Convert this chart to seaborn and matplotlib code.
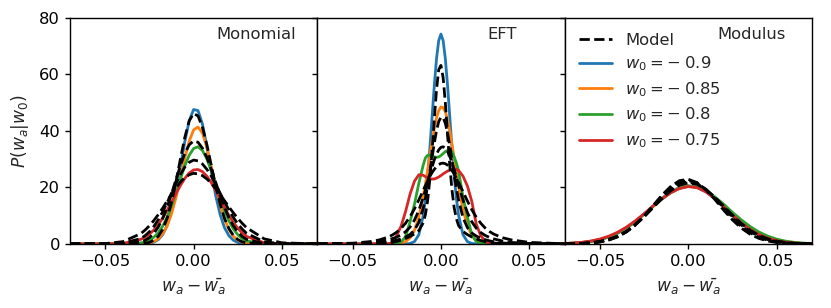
import matplotlib
matplotlib.use("Agg")
import matplotlib.pyplot as plt
from matplotlib.lines import Line2D
import seaborn as sns
import pandas as pd

W0_VALUES = ["0.9", "0.85", "0.8", "0.75"]
COLORS = ["#1f77b4", "#ff7f0e", "#2ca02c", "#d62728"]

# ---- Monomial ----
x_mono = [-0.07, -0.05, -0.04, -0.03, -0.0275, -0.025, -0.0225, -0.02, -0.0175, -0.015, -0.0125,
          -0.01, -0.0075, -0.005, -0.0025, 0.0, 0.0025, 0.005, 0.0075, 0.01, 0.0125, 0.015,
          0.0175, 0.02, 0.0225, 0.025, 0.0275, 0.03, 0.04, 0.05, 0.07]
mono_090 = [0, 0, 0, 0.03, 0.08, 0.24, 0.64, 1.53, 3.31, 6.5, 11.6, 18.7, 27.3, 36.2, 43.6, 47.6,
            47.2, 42.4, 34.5, 25.5, 17.1, 10.4, 5.7, 2.9, 1.3, 0.53, 0.2, 0.07, 0, 0, 0]
mono_085 = [0, 0, 0, 0.06, 0.15, 0.37, 0.86, 1.82, 3.57, 6.4, 10.7, 16.4, 23.2, 30.3, 36.4, 40.4,
            41.4, 39.2, 34.1, 27.5, 20.4, 13.9, 8.8, 5.1, 2.75, 1.36, 0.62, 0.26, 0, 0, 0]
mono_080 = [0, 0, 0.01, 0.36, 0.72, 1.34, 2.38, 3.99, 6.34, 9.5, 13.5, 18.1, 23.0, 27.7, 31.4, 33.8,
            34.4, 33.1, 30.1, 25.9, 21.0, 16.2, 11.8, 8.1, 5.3, 3.27, 1.9, 1.05, 0.06, 0, 0]
mono_075 = [0, 0.01, 0.18, 1.6, 2.4, 3.5, 4.92, 6.84, 9.17, 11.9, 14.8, 17.8, 20.7, 23.2, 25.1, 26.2,
            26.35, 25.6, 24.0, 21.7, 18.9, 15.9, 12.9, 10.1, 7.6, 5.56, 3.9, 2.65, 0.39, 0.03, 0]
mono_model_090 = [0, 0, 0, 0.09, 0.23, 0.57, 1.30, 2.70, 5.18, 9.1, 14.8, 22.0, 30.0, 37.7, 43.6, 46.2,
                  45.3, 41.3, 35.1, 27.8, 20.5, 14.1, 9.0, 5.4, 3.0, 1.55, 0.75, 0.34, 0.01, 0, 0]
mono_model_085 = [0, 0, 0.03, 0.68, 1.27, 2.25, 3.78, 6.0, 9.1, 13.0, 17.7, 22.8, 27.7, 32.1, 35.1, 36.5,
                  36.0, 33.9, 30.6, 26.4, 21.8, 17.2, 12.9, 9.3, 6.4, 4.23, 2.66, 1.60, 0.13, 0.01, 0]
mono_model_080 = [0, 0.02, 0.23, 1.9, 2.92, 4.34, 6.21, 8.57, 11.4, 14.6, 18.0, 21.4, 24.6, 27.2, 28.9, 29.7,
                  29.4, 28.3, 26.4, 24.0, 21.1, 18.0, 14.9, 12.0, 9.4, 7.1, 5.25, 3.75, 0.73, 0.09, 0]
mono_model_075 = [0, 0.12, 0.82, 3.61, 4.89, 6.46, 8.31, 10.4, 12.7, 15.2, 17.6, 19.9, 21.9, 23.5, 24.5, 25.0,
                  24.8, 24.2, 23.0, 21.5, 19.6, 17.5, 15.3, 13.1, 11.0, 9.07, 7.29, 5.74, 1.79, 0.40, 0.01]

# ---- EFT ----
x_eft = [-0.07, -0.05, -0.04, -0.035, -0.03, -0.0275, -0.025, -0.0225, -0.02, -0.0175, -0.015, -0.0125,
         -0.01, -0.00875, -0.0075, -0.00625, -0.005, -0.00375, -0.0025, -0.00125, 0.0, 0.00125, 0.0025,
         0.00375, 0.005, 0.00625, 0.0075, 0.00875, 0.01, 0.0125, 0.015, 0.0175, 0.02, 0.0225, 0.025,
         0.0275, 0.03, 0.035, 0.04, 0.05, 0.07]
eft_090 = [0, 0, 0, 0, 0, 0, 0, 0, 0.02, 0.16, 0.82, 3.26,
           10.1, 16.1, 24.1, 34.0, 45.1, 56.1, 65.6, 72.0, 74.3, 72.0, 65.6, 56.1, 45.1, 34.0, 24.1, 16.1, 10.1,
           3.26, 0.82, 0.16, 0.02, 0, 0, 0, 0, 0, 0, 0, 0]
eft_085 = [0, 0, 0, 0, 0, 0.03, 0.09, 0.30, 0.84, 2.13, 4.78, 9.51,
           16.8, 21.3, 26.2, 31.3, 36.3, 40.8, 44.6, 47.2, 48.5, 48.3, 46.8, 43.9, 40.0, 35.3, 30.3, 25.2, 20.3,
           12.1, 6.40, 2.99, 1.24, 0.46, 0.15, 0.04, 0.01, 0, 0, 0, 0]
eft_080 = [0, 0, 0, 0, 0, 0.02, 0.2, 0.7, 2.6, 7.8, 14.0, 21.5,
           28.0, 30.5, 31.4, 31.4, 31.0, 30.8, 30.7, 30.8, 31.3, 32.0, 32.7, 33.1, 33.3, 32.6, 30.8, 28.7, 25.8,
           16.5, 9.5, 3.2, 0.9, 0.25, 0.05, 0, 0, 0, 0, 0, 0]
eft_075 = [0, 0, 0, 0, 0.05, 0.4, 3.0, 6.4, 11.5, 17.6, 22.2, 24.5,
           24.3, 23.8, 23.4, 23.1, 23.0, 23.0, 23.3, 23.7, 24.2, 24.8, 25.3, 25.8, 26.1, 26.4, 26.5, 26.4, 26.0,
           24.0, 20.5, 15.0, 7.0, 3.0, 1.0, 0.3, 0.05, 0, 0, 0, 0]
eft_model_090 = [0, 0, 0.03, 0.11, 0.35, 0.57, 0.89, 1.34, 1.92, 2.65, 3.53, 4.73,
                 7.5, 10.5, 15.5, 23.0, 32.9, 44.2, 54.6, 61.7, 63.2, 58.9, 49.9, 38.7, 27.9, 19.1, 12.8, 8.9, 6.5,
                 4.4, 3.3, 2.46, 1.77, 1.22, 0.80, 0.51, 0.31, 0.10, 0.03, 0, 0]
eft_model_085 = [0, 0.01, 0.11, 0.28, 0.65, 0.95, 1.33, 1.83, 2.47, 3.37, 4.86, 7.63,
                 12.7, 16.3, 20.6, 25.5, 30.7, 35.7, 40.1, 43.3, 44.9, 44.7, 42.7, 39.3, 34.8, 29.7, 24.5, 19.7, 15.5,
                 9.3, 5.76, 3.87, 2.78, 2.07, 1.51, 1.09, 0.76, 0.34, 0.13, 0.01, 0]
eft_model_080 = [0, 0.08, 0.40, 0.79, 1.41, 1.87, 2.44, 3.21, 4.31, 5.95, 8.40, 11.9,
                 16.5, 19.1, 21.9, 24.7, 27.3, 29.8, 31.8, 33.3, 34.2, 34.4, 33.9, 32.8, 31.0, 28.8, 26.3, 23.6, 20.8,
                 15.5, 11.1, 7.84, 5.57, 4.05, 3.03, 2.30, 1.77, 1.0, 0.53, 0.12, 0]
eft_model_075 = [0.01, 0.26, 0.83, 1.41, 2.40, 3.16, 4.19, 5.55, 7.36, 9.65, 12.4, 15.6,
                 19.0, 20.7, 22.4, 23.9, 25.3, 26.4, 27.4, 28.1, 28.5, 28.6, 28.4, 27.9, 27.1, 26.0, 24.8, 23.4, 21.8,
                 18.5, 15.2, 12.1, 9.49, 7.36, 5.67, 4.40, 3.45, 2.18, 1.41, 0.55, 0.05]

# ---- Modulus ----
x_mod = [-0.07, -0.065, -0.06, -0.055, -0.05, -0.045, -0.04, -0.035, -0.03, -0.025, -0.02, -0.015, -0.01,
         -0.005, 0.0, 0.005, 0.01, 0.015, 0.02, 0.025, 0.03, 0.035, 0.04, 0.045, 0.05, 0.055, 0.06, 0.065, 0.07]
mod_090 = [0.12, 0.25, 0.47, 0.86, 1.48, 2.43, 3.78, 5.60, 7.88, 10.5, 13.3, 16.1, 18.4, 20.0, 20.6,
           20.1, 18.5, 16.0, 13.1, 10.1, 7.31, 5.0, 3.22, 1.95, 1.11, 0.60, 0.31, 0.15, 0.07]
mod_085 = [0.14, 0.28, 0.52, 0.92, 1.57, 2.53, 3.90, 5.70, 7.94, 10.5, 13.3, 15.9, 18.2, 19.8, 20.5,
           20.1, 18.7, 16.4, 13.6, 10.7, 7.90, 5.53, 3.65, 2.28, 1.35, 0.75, 0.40, 0.20, 0.09]
mod_080 = [0.14, 0.28, 0.52, 0.92, 1.56, 2.52, 3.88, 5.67, 7.9, 10.5, 13.2, 15.8, 18.1, 19.7, 20.4,
           20.1, 18.8, 16.7, 14.1, 11.2, 8.55, 6.18, 4.23, 2.76, 1.71, 1.0, 0.56, 0.30, 0.15]
mod_075 = [0.17, 0.33, 0.60, 1.05, 1.74, 2.75, 4.14, 5.96, 8.18, 10.7, 13.4, 15.9, 18.1, 19.6, 20.3,
           19.9, 18.4, 16.1, 13.2, 10.2, 7.45, 5.13, 3.33, 2.03, 1.17, 0.63, 0.33, 0.15, 0.07]
mod_model_090 = [0.02, 0.06, 0.14, 0.32, 0.69, 1.36, 2.48, 4.23, 6.70, 9.87, 13.5, 17.2, 20.3, 22.4, 22.9,
                 21.7, 19.2, 15.8, 12.0, 8.53, 5.62, 3.45, 1.96, 1.04, 0.51, 0.24, 0.10, 0.04, 0.02]
mod_model_085 = [0.03, 0.07, 0.17, 0.37, 0.76, 1.45, 2.59, 4.32, 6.74, 9.80, 13.3, 16.8, 19.9, 21.9, 22.5,
                 21.6, 19.3, 16.1, 12.6, 9.15, 6.20, 3.93, 2.32, 1.28, 0.66, 0.32, 0.14, 0.06, 0.02]
mod_model_080 = [0.03, 0.09, 0.19, 0.41, 0.82, 1.53, 2.68, 4.39, 6.74, 9.67, 13.0, 16.4, 19.3, 21.3, 22.0,
                 21.3, 19.3, 16.4, 13.0, 9.67, 6.74, 4.39, 2.68, 1.53, 0.82, 0.41, 0.19, 0.09, 0.03]
mod_model_075 = [0.04, 0.10, 0.22, 0.46, 0.89, 1.62, 2.78, 4.47, 6.75, 9.58, 12.8, 16.0, 18.8, 20.8, 21.6,
                 21.1, 19.3, 16.6, 13.4, 10.2, 7.28, 4.88, 3.07, 1.82, 1.01, 0.53, 0.26, 0.12, 0.05]

panels = [
    ("Monomial", x_mono, [mono_090, mono_085, mono_080, mono_075],
     [mono_model_090, mono_model_085, mono_model_080, mono_model_075], 0.013),
    ("EFT", x_eft, [eft_090, eft_085, eft_080, eft_075],
     [eft_model_090, eft_model_085, eft_model_080, eft_model_075], 0.0265),
    ("Modulus", x_mod, [mod_090, mod_085, mod_080, mod_075],
     [mod_model_090, mod_model_085, mod_model_080, mod_model_075], 0.0165),
]

rows = []
for name, xs, obs, model, _ in panels:
    for source, curves in (("data", obs), ("model", model)):
        for w0, ys in zip(W0_VALUES, curves):
            for a, b in zip(xs, ys):
                rows.append({"panel": name, "source": source, "w0": w0, "x": a, "density": b})
df = pd.DataFrame(rows)

sns.set_theme(style="ticks", context="notebook", rc={
    "axes.edgecolor": "black",
    "axes.linewidth": 1.0,
    "xtick.color": "black",
    "ytick.color": "black",
    "xtick.major.width": 1.0,
    "ytick.major.width": 1.0,
    "xtick.major.size": 3.5,
    "ytick.major.size": 3.5,
})
plt.rcParams["font.family"] = ["DejaVu Sans"]
plt.rcParams["mathtext.fontset"] = "dejavusans"
FS = 11.8

fig, axes = plt.subplots(1, 3, figsize=(8.31, 3.08), dpi=100, sharey=True)
fig.subplots_adjust(left=0.0842, right=0.977, bottom=0.208, top=0.9416, wspace=0)

for ax, (name, xs, obs, model, tx) in zip(axes, panels):
    sub = df[df["panel"] == name]
    sns.lineplot(data=sub[sub["source"] == "data"], x="x", y="density", hue="w0",
                 hue_order=W0_VALUES, palette=COLORS, lw=2, estimator=None, sort=False,
                 legend=False, ax=ax)
    sns.lineplot(data=sub[sub["source"] == "model"], x="x", y="density", units="w0",
                 estimator=None, sort=False, color="black", ls="--", lw=2, legend=False, ax=ax)
    ax.set_xlim(-0.07, 0.07)
    ax.set_ylim(0, 80)
    ax.set_xticks([-0.05, 0.0, 0.05])
    ax.set_yticks([0, 20, 40, 60, 80])
    ax.tick_params(labelsize=FS)
    ax.set_xlabel(r"$w_a - \bar{w_a}$", fontsize=FS + 0.5, labelpad=6)
    ax.set_ylabel("")
    ax.text(tx, 74, name, fontsize=FS, va="center", ha="left")

axes[0].set_ylabel(r"$P(w_a|w_0)$", fontsize=FS + 0.5, labelpad=6)

handles = [Line2D([], [], color="black", ls="--", lw=2, label="Model")]
for w0, c in zip(W0_VALUES, COLORS):
    handles.append(Line2D([], [], color=c, lw=2, label=rf"$w_0 = -\;{w0}$"))
axes[2].legend(handles=handles, loc="upper left", frameon=False, fontsize=FS, labelspacing=0.42)

fig.savefig("out.png", dpi=100)
